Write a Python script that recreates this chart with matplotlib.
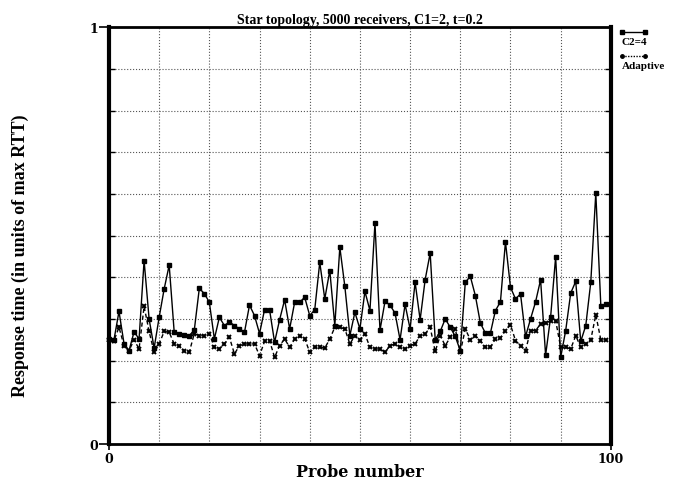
import numpy as np
import matplotlib.pyplot as plt
from matplotlib.lines import Line2D
from matplotlib.ticker import MultipleLocator

# Datos
probe = np.arange(100)

c2_4 = [0.252, 0.25, 0.318, 0.241, 0.224, 0.269, 0.252, 0.44, 0.30, 0.23,
        0.304, 0.372, 0.429, 0.268, 0.265, 0.262, 0.26, 0.273, 0.373, 0.361,
        0.34, 0.252, 0.304, 0.284, 0.293, 0.284, 0.276, 0.268, 0.333, 0.308,
        0.265, 0.322, 0.322, 0.244, 0.298, 0.346, 0.276, 0.34, 0.34, 0.352,
        0.308, 0.322, 0.436, 0.348, 0.416, 0.284, 0.472, 0.378, 0.26, 0.316,
        0.276, 0.366, 0.32, 0.53, 0.273, 0.342, 0.333, 0.314, 0.25, 0.335,
        0.276, 0.388, 0.298, 0.394, 0.458, 0.25, 0.27, 0.30, 0.28, 0.258,
        0.224, 0.388, 0.402, 0.356, 0.29, 0.266, 0.266, 0.32, 0.341, 0.485,
        0.376, 0.348, 0.36, 0.258, 0.30, 0.341, 0.394, 0.213, 0.305, 0.449,
        0.208, 0.272, 0.362, 0.39, 0.246, 0.284, 0.388, 0.602, 0.332, 0.335]

adaptive = [0.25, 0.248, 0.28, 0.236, 0.224, 0.25, 0.228, 0.33, 0.27, 0.22,
            0.24, 0.27, 0.268, 0.24, 0.236, 0.224, 0.22, 0.265, 0.26, 0.26,
            0.265, 0.232, 0.228, 0.24, 0.256, 0.216, 0.236, 0.24, 0.24, 0.24,
            0.212, 0.246, 0.248, 0.208, 0.236, 0.252, 0.232, 0.252, 0.258, 0.253,
            0.22, 0.232, 0.232, 0.23, 0.252, 0.28, 0.28, 0.276, 0.24, 0.26,
            0.25, 0.264, 0.232, 0.228, 0.228, 0.22, 0.236, 0.24, 0.232, 0.228,
            0.236, 0.24, 0.26, 0.264, 0.28, 0.222, 0.26, 0.236, 0.256, 0.276,
            0.22, 0.276, 0.25, 0.26, 0.248, 0.232, 0.232, 0.252, 0.254, 0.272,
            0.286, 0.248, 0.236, 0.224, 0.272, 0.272, 0.288, 0.29, 0.296, 0.296,
            0.232, 0.232, 0.228, 0.26, 0.232, 0.24, 0.25, 0.31, 0.25, 0.25]

serif = ['Liberation Serif', 'DejaVu Serif']
wide = ['DejaVu Serif']

fig = plt.figure(figsize=(6.81, 4.85), dpi=100)
ax = fig.add_axes([0.160, 0.0825, 0.737, 0.8595])

ax.plot(probe, c2_4, color='black', linewidth=1.0, marker='s',
        markersize=3.2, clip_on=False)
ax.plot(probe, adaptive, color='black', linewidth=1.0, linestyle=(0, (3, 2)),
        marker='x', markersize=3.5, markeredgewidth=1.4, clip_on=False)

ax.set_xlim(0, 100)
ax.set_ylim(0, 1)
ax.set_xticks([0, 100])
ax.set_yticks([0, 1])
ax.xaxis.set_minor_locator(MultipleLocator(10))
ax.yaxis.set_minor_locator(MultipleLocator(0.1))
ax.grid(which='both', linestyle=':', color='#555555', linewidth=0.8)
ax.tick_params(which='major', direction='out', length=7, width=1.2)
ax.tick_params(axis='x', which='major', pad=2, length=4)
ax.tick_params(axis='y', which='major', pad=1)
ax.tick_params(which='minor', direction='in', length=4, width=1.0,
               right=True)
ax.tick_params(axis='x', which='minor', length=0)

for lab in ax.get_xticklabels() + ax.get_yticklabels():
    lab.set_family(wide)
    lab.set_fontweight('bold')
    lab.set_fontsize(9)

ax.spines['left'].set_linewidth(3.0)
ax.spines['right'].set_linewidth(3.0)
ax.spines['top'].set_linewidth(2.0)
ax.spines['bottom'].set_linewidth(2.0)

ax.set_title('Star topology, 5000 receivers, C1=2, t=0.2', family=serif,
             fontweight='bold', fontsize=10, pad=3)
ax.set_xlabel('Probe number', family=wide, fontweight='bold', fontsize=11.5)
ax.xaxis.set_label_coords(0.5, -0.045)
ax.set_ylabel('Response time (in units of max RTT)', family=serif,
              fontweight='bold', fontsize=13)
ax.yaxis.set_label_coords(-0.16, 0.455)

# Leyenda a mano, etiqueta debajo del simbolo
tr = ax.transAxes
ax.add_line(Line2D([1.022, 1.068], [0.988, 0.988], transform=tr, color='black',
                   linewidth=1.0, marker='s', markersize=3, clip_on=False))
ax.text(1.022, 0.966, 'C2=4', transform=tr, family=serif, fontweight='bold',
        fontsize=8, va='center', ha='left')
ax.add_line(Line2D([1.022, 1.068], [0.93, 0.93], transform=tr, color='black',
                   linewidth=1.0, linestyle=(0, (1, 1)), marker='o',
                   markersize=2.5, clip_on=False))
ax.text(1.022, 0.908, 'Adaptive', transform=tr, family=serif,
        fontweight='bold', fontsize=8, va='center', ha='left')

plt.savefig('out.png', dpi=100)
